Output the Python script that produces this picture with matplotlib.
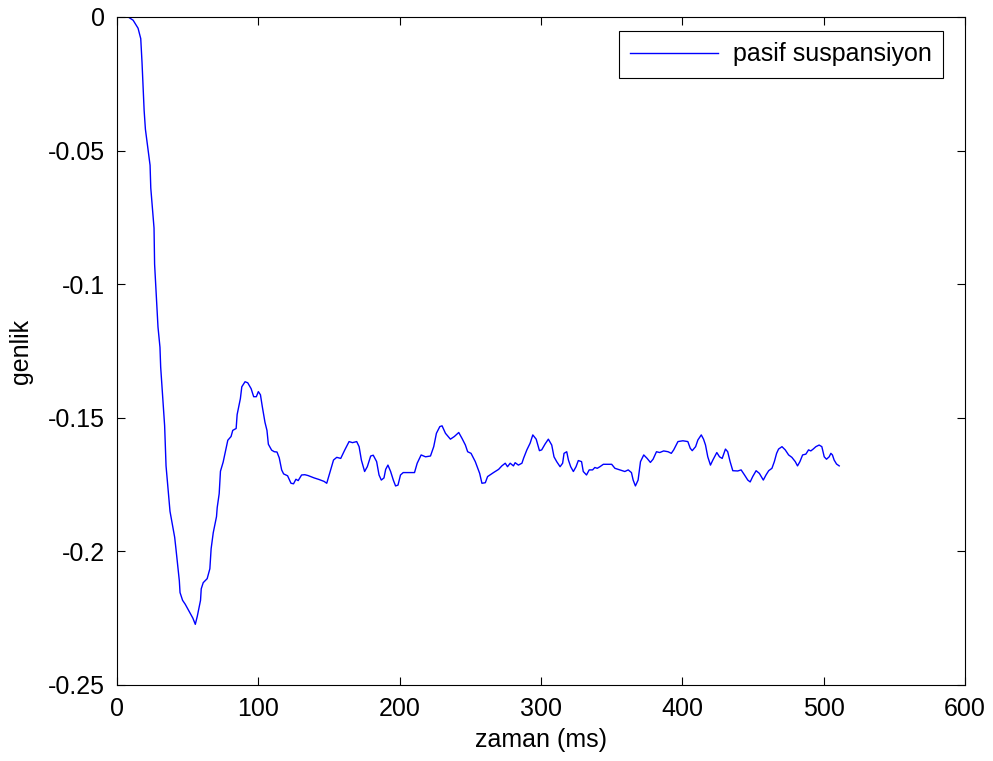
import matplotlib
matplotlib.use("Agg")
import matplotlib.pyplot as plt

plt.rcParams['font.family'] = ['Liberation Sans', 'DejaVu Sans']

# zaman (ms) ve genlik degerleri
zaman = [0, 4, 7.9, 11.4, 14.9, 16.8, 17.7, 19.2, 20.1, 23.4, 23.9, 26.2, 26.6,
         29.0, 30.4, 30.9, 33.7, 34.7, 37.5, 40.8, 41.7, 44.1, 44.6, 46.4, 48.3,
         51.4, 53.7, 55.4, 56.8, 59.1, 59.6, 61.0, 63.8, 65.7, 66.6, 68.1, 70.4,
         70.9, 72.3, 73.2, 75.1, 77.5, 78.4, 80.7, 81.9, 84.3, 85.0, 87.3, 88.3,
         90.6, 92.5, 94.9, 96.7, 98.6, 100.0, 101.5, 102.8, 104.7, 106.1, 107.1,
         109.4, 111.3, 113.2, 114.8, 116.5, 117.9, 120.7, 123.1, 124.9, 126.6,
         128.2, 130.6, 132.9, 135.1, 139.5, 143.0, 146.5, 148.4, 150.1, 153.2,
         155.5, 158.3, 161.1, 164.2, 166.6, 169.6, 171.3, 172.9, 175.2, 177.1,
         179.5, 181.3, 183.7, 185.4, 187.0, 188.9, 190.1, 191.7, 193.6, 195.5,
         197.1, 198.8, 200.6, 202.5, 205.3, 210.5, 212.4, 215.2, 218.3, 221.8,
         224.1, 226.0, 228.4, 230.0, 232.4, 235.9, 238.7, 241.8, 244.1, 246.5,
         248.1, 250.5, 253.5, 256.6, 258.2, 260.6, 262.2, 266.4, 270.0, 272.3,
         274.7, 276.3, 278.2, 280.5, 281.7, 284.0, 286.5, 287.7, 290.0, 292.3,
         294.2, 296.6, 298.9, 300.5, 302.9, 305.2, 307.6, 309.2, 311.1, 313.5,
         315.3, 316.3, 318.2, 319.4, 321.0, 322.9, 324.8, 326.4, 328.7, 329.9,
         332.2, 334.1, 336.5, 338.1, 339.8, 341.7, 344.1, 346.4, 350.0, 352.3,
         355.8, 359.3, 361.7, 364.0, 365.2, 366.8, 368.7, 370.4, 372.7, 375.1,
         377.4, 379.3, 381.7, 384.0, 386.8, 389.9, 392.2, 393.9, 396.9, 400.4,
         403.9, 405.6, 407.0, 409.4, 411.0, 413.4, 415.0, 416.4, 418.0, 419.9,
         421.6, 424.4, 426.3, 428.2, 430.5, 432.1, 433.8, 435.7, 439.2, 441.6,
         444.0, 446.3, 448.0, 449.8, 452.2, 454.5, 457.3, 459.2, 461.1, 463.4,
         465.1, 466.7, 468.1, 470.5, 472.8, 475.2, 477.5, 479.9, 481.5, 483.2,
         485.1, 487.4, 489.3, 490.9, 492.6, 494.5, 496.8, 498.7, 500.4, 502.0,
         503.9, 505.1, 506.2, 507.4, 509.1, 511.0]
genlik = [0, 0, 0, -0.0012, -0.0042, -0.0081, -0.017, -0.035, -0.042, -0.0555,
          -0.064, -0.079, -0.0925, -0.116, -0.1236, -0.131, -0.153, -0.168,
          -0.185, -0.1947, -0.199, -0.211, -0.2154, -0.2183, -0.2198, -0.2228,
          -0.225, -0.2273, -0.2243, -0.2183, -0.214, -0.2117, -0.2102, -0.2065,
          -0.199, -0.193, -0.187, -0.1836, -0.1784, -0.170, -0.1666, -0.1606,
          -0.1584, -0.157, -0.1547, -0.154, -0.1488, -0.1428, -0.1384, -0.1365,
          -0.1369, -0.1391, -0.1421, -0.1421, -0.1402, -0.1414, -0.1458, -0.1517,
          -0.1547, -0.1599, -0.1621, -0.1627, -0.1628, -0.165, -0.1695, -0.171,
          -0.1717, -0.1745, -0.1747, -0.173, -0.1735, -0.1714, -0.1713, -0.1716,
          -0.1725, -0.1731, -0.1738, -0.1745, -0.1714, -0.1658, -0.1648, -0.1652,
          -0.1621, -0.1589, -0.1593, -0.1589, -0.1608, -0.1658, -0.1701, -0.1683,
          -0.1643, -0.164, -0.1664, -0.1714, -0.1733, -0.1725, -0.1693, -0.1677,
          -0.1701, -0.1733, -0.1755, -0.1752, -0.1714, -0.1705, -0.1705, -0.1705,
          -0.167, -0.1639, -0.1646, -0.1643, -0.1608, -0.1558, -0.1533, -0.153,
          -0.1558, -0.158, -0.157, -0.1555, -0.1577, -0.1602, -0.1627, -0.1633,
          -0.1664, -0.1708, -0.1745, -0.1743, -0.172, -0.1705, -0.1693, -0.168,
          -0.167, -0.1683, -0.167, -0.168, -0.1668, -0.1677, -0.167, -0.1651,
          -0.162, -0.1595, -0.1564, -0.158, -0.1623, -0.162, -0.1598, -0.158,
          -0.1602, -0.1646, -0.1664, -0.1683, -0.167, -0.1633, -0.1627, -0.1658,
          -0.1683, -0.1701, -0.1683, -0.166, -0.1664, -0.1701, -0.1714, -0.1695,
          -0.1695, -0.1686, -0.1689, -0.1683, -0.1674, -0.1674, -0.1674, -0.1689,
          -0.1695, -0.1701, -0.1695, -0.1705, -0.1733, -0.1755, -0.1733, -0.1664,
          -0.1639, -0.1652, -0.1667, -0.1655, -0.1627, -0.163, -0.1624, -0.1627,
          -0.1633, -0.162, -0.1589, -0.1586, -0.1589, -0.1614, -0.1623, -0.1608,
          -0.1583, -0.1564, -0.158, -0.1602, -0.1646, -0.1677, -0.1658, -0.163,
          -0.1646, -0.1652, -0.1617, -0.1627, -0.1664, -0.1698, -0.1699, -0.1695,
          -0.1714, -0.1733, -0.174, -0.172, -0.1698, -0.1708, -0.1733, -0.1714,
          -0.1698, -0.1689, -0.1664, -0.1633, -0.1617, -0.1608, -0.162, -0.1639,
          -0.1648, -0.1664, -0.168, -0.1664, -0.1639, -0.1636, -0.162, -0.1624,
          -0.1617, -0.1608, -0.1602, -0.1608, -0.1646, -0.1655, -0.1646, -0.1633,
          -0.1639, -0.1658, -0.1673, -0.168]

FS = 18

fig = plt.figure(figsize=(9.93, 7.61), dpi=100)
ax = fig.add_axes([117 / 993, 76 / 761, 848 / 993, 668 / 761])

ax.plot(zaman, genlik, color='#0000ff', linewidth=1.0, label='pasif suspansiyon')

ax.set_xlim(0, 600)
ax.set_ylim(-0.25, 0)
ax.set_xticks([0, 100, 200, 300, 400, 500, 600])
ax.set_yticks([-0.25, -0.2, -0.15, -0.1, -0.05, 0])
ax.set_yticklabels(['-0.25', '-0.2', '-0.15', '-0.1', '-0.05', '0'])
ax.tick_params(direction='in', top=True, right=True, labelsize=FS, length=6, pad=8.6)
for s in ax.spines.values():
    s.set_linewidth(0.8)

ax.set_xlabel('zaman (ms)', fontsize=FS)
ax.set_ylabel('genlik', fontsize=FS)
ax.xaxis.set_label_coords(0.5, -0.064)
ax.yaxis.set_label_coords(-0.099, 0.5)

leg = ax.legend(loc='upper right', fontsize=FS, fancybox=False, edgecolor='black',
                framealpha=1, handlelength=3.5, handletextpad=0.6, borderpad=0.45,
                borderaxespad=0, bbox_to_anchor=(0.974, 0.979))
leg.get_frame().set_linewidth(0.8)

fig.savefig('out.png', dpi=100)
